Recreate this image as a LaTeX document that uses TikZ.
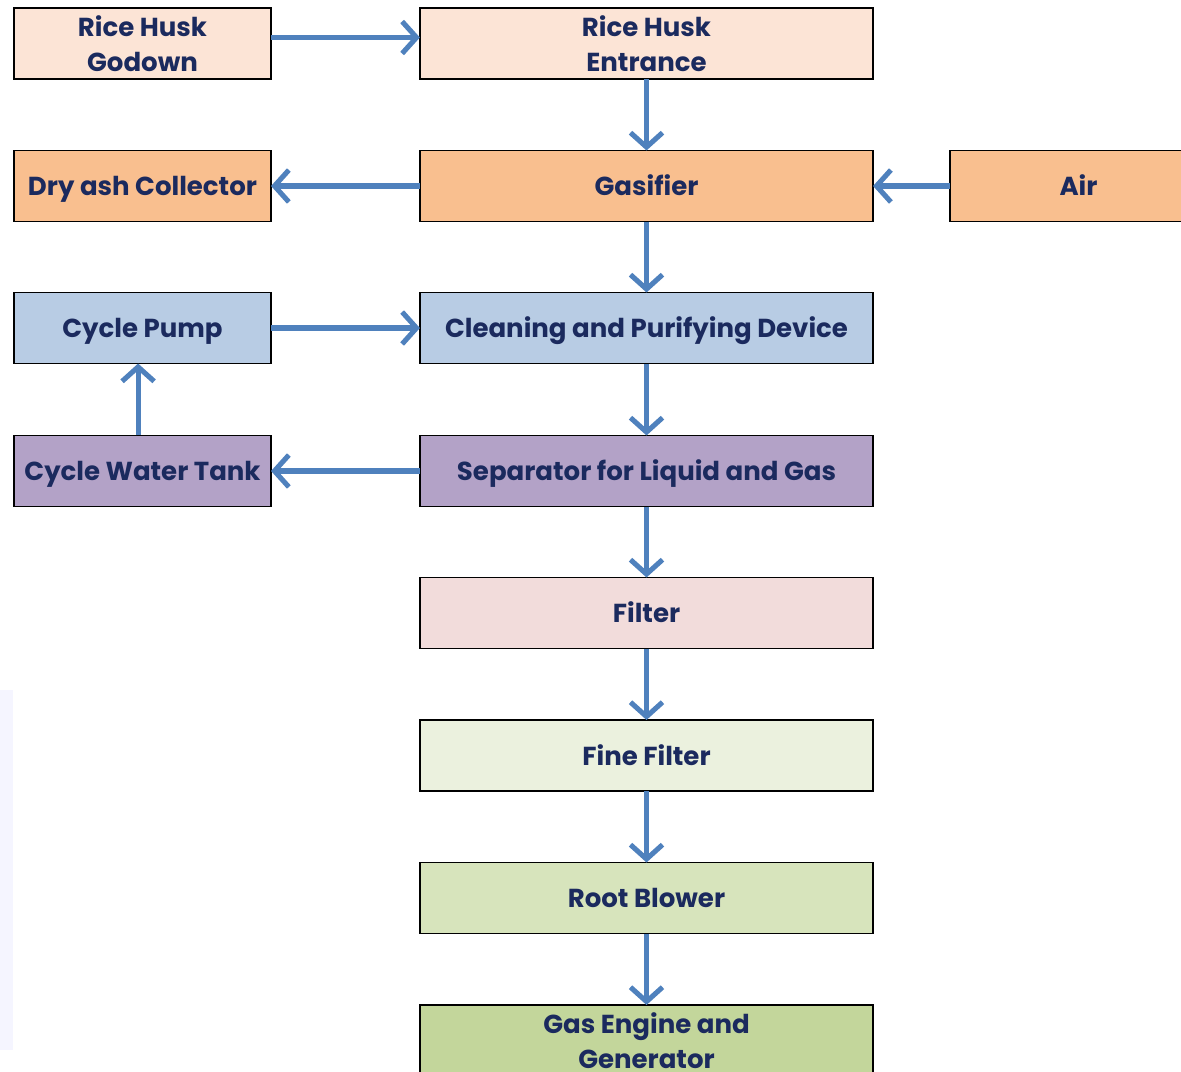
\documentclass[tikz,border=0pt]{standalone}
\usepackage{fontspec}
\setmainfont{Poppins}
\usetikzlibrary{positioning,arrows.meta}

\definecolor{navytext}{HTML}{1B2A5E}
\definecolor{flowblue}{HTML}{4F81BD}
\definecolor{huskfill}{HTML}{FCE4D6}
\definecolor{gasfill}{HTML}{F9BF8F}
\definecolor{cleanfill}{HTML}{B8CCE4}
\definecolor{sepfill}{HTML}{B3A2C7}
\definecolor{filterfill}{HTML}{F2DCDB}
\definecolor{finefill}{HTML}{EBF1DE}
\definecolor{blowfill}{HTML}{D7E4BC}
\definecolor{enginefill}{HTML}{C3D69B}

\tikzset{
  box/.style={draw=black, line width=1.3pt, minimum height=1.775cm,
    inner sep=0pt, outer sep=0pt, align=center, text=navytext,
    font=\bfseries\fontsize{18.5}{25}\selectfont},
  oneline/.style={text height=13.5pt, text depth=0pt},
  mainbox/.style={box, minimum width=11.325cm},
  sidebox/.style={box, minimum width=6.425cm},
  flow/.style={draw=flowblue, line width=3.6pt,
    -{Straight Barb[length=3.6mm, width=8mm]}}
}

\begin{document}
\begin{tikzpicture}[x=0.025cm, y=-0.025cm]
    \useasboundingbox (0,0) rectangle (1181,1071);
    \fill[white] (0,0) rectangle (1181,1071);
    \fill[blue!4] (0,690) rectangle (13,1050);

    % main line
    \node[mainbox, fill=huskfill] (entrance) at (646.5,43.5) {Rice Husk\\Entrance};
    \node[mainbox, oneline, fill=gasfill] (gasifier) at (646.5,186) {Gasifier};
    \node[mainbox, oneline, fill=cleanfill] (cleaning) at (646.5,328) {Cleaning and Purifying Device};
    \node[mainbox, oneline, fill=sepfill] (separator) at (646.5,471) {Separator for Liquid and Gas};
    \node[mainbox, oneline, fill=filterfill] (filter) at (646.5,613) {Filter};
    \node[mainbox, oneline, fill=finefill] (finefilter) at (646.5,755.5) {Fine Filter};
    \node[mainbox, oneline, fill=blowfill] (blower) at (646.5,898) {Root Blower};
    \node[mainbox, fill=enginefill] (engine) at (646.5,1040.5) {Gas Engine and\\Generator};

    % side boxes
    \node[sidebox, fill=huskfill] (godown) at (142.5,43.5) {Rice Husk\\Godown};
    \node[sidebox, oneline, fill=gasfill] (ash) at (142.5,186) {Dry ash Collector};
    \node[sidebox, oneline, fill=cleanfill] (pump) at (142.5,328) {Cycle Pump};
    \node[sidebox, oneline, fill=sepfill] (tank) at (142.5,471) {Cycle Water Tank};
    \node[sidebox, oneline, fill=gasfill] (air) at (1078.5,186) {Air};

    % connectors
    \draw[flow] ([yshift=0.15cm]godown.east) -- ([yshift=0.15cm]entrance.west);
    \draw[flow] (entrance) -- (gasifier);
    \draw[flow] (gasifier) -- (ash);
    \draw[flow] (air) -- (gasifier);
    \draw[flow] (gasifier) -- (cleaning);
    \draw[flow] (pump) -- (cleaning);
    \draw[flow] (cleaning) -- (separator);
    \draw[flow] (separator) -- (tank);
    \draw[flow] ([xshift=-0.11cm]tank.north) -- ([xshift=-0.11cm]pump.south);
    \draw[flow] (separator) -- (filter);
    \draw[flow] (filter) -- (finefilter);
    \draw[flow] (finefilter) -- (blower);
    \draw[flow] (blower) -- (engine);
\end{tikzpicture}
\end{document}
